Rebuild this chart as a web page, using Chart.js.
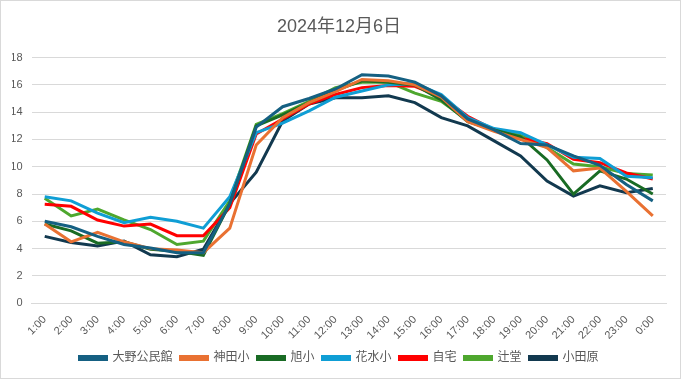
<!DOCTYPE html>
<html>
<head>
<meta charset="utf-8">
<script src="https://cdn.jsdelivr.net/npm/chart.js@4/dist/chart.umd.min.js"></script>
<style>
  html, body { margin: 0; padding: 0; background: #fff; }
  #wrap { width: 681px; height: 379px; box-sizing: border-box; border: 1px solid #d9d9d9; position: relative; }
  canvas { display: block; }
</style>
</head>
<body>
<div id="wrap"><canvas id="c"></canvas></div>
<script>
const categories = ["1:00","2:00","3:00","4:00","5:00","6:00","7:00","8:00","9:00","10:00","11:00","12:00","13:00","14:00","15:00","16:00","17:00","18:00","19:00","20:00","21:00","22:00","23:00","0:00"];

const ohnoKominkan = [6.0, 5.6, 4.9, 4.3, 4.05, 3.7, 3.7, 7.3, 12.9, 14.4, 15.0, 15.7, 16.75, 16.65, 16.2, 15.2, 13.5, 12.7, 11.7, 11.6, 10.8, 10.1, 8.7, 7.5];
const kandaSho     = [5.8, 4.5, 5.2, 4.5, 4.0, 3.9, 3.7, 5.5, 11.6, 13.6, 14.7, 15.5, 16.4, 16.3, 16.0, 15.1, 13.3, 12.6, 12.0, 11.4, 9.7, 9.9, 8.2, 6.4];
const asahiSho     = [5.8, 5.3, 4.4, 4.5, 3.95, 3.8, 3.5, 7.3, 13.0, 13.8, 14.7, 15.6, 16.3, 16.2, 16.0, 14.9, 13.3, 12.7, 12.2, 10.5, 8.0, 9.7, 9.1, 8.0];
const hanamizuSho  = [7.8, 7.5, 6.6, 5.9, 6.3, 6.0, 5.5, 7.8, 12.5, 13.2, 14.1, 15.1, 15.55, 16.0, 16.1, 15.3, 13.6, 12.8, 12.5, 11.6, 10.7, 10.6, 9.3, 9.2];
const jitaku       = [7.25, 7.1, 6.1, 5.65, 5.8, 4.95, 4.95, 7.0, 12.4, 13.5, 14.6, 15.3, 15.8, 15.95, 15.9, 15.1, 13.7, 12.7, 12.1, 11.7, 10.55, 10.3, 9.55, 9.1];
const tsujido      = [7.7, 6.4, 6.9, 6.1, 5.4, 4.3, 4.55, 7.5, 13.1, 13.9, 14.8, 15.8, 16.2, 16.2, 15.4, 14.8, 13.4, 12.7, 12.3, 11.4, 10.2, 10.0, 9.5, 9.4];
const odawara      = [4.9, 4.45, 4.2, 4.55, 3.55, 3.4, 3.95, 7.3, 9.6, 13.35, 14.6, 15.06, 15.06, 15.2, 14.7, 13.6, 13.0, 11.9, 10.8, 8.95, 7.85, 8.6, 8.1, 8.4];

const seriesNames = ["大野公民館","神田小","旭小","花水小","自宅","辻堂","小田原"];
const seriesColors = ["#156082","#E97132","#196B24","#0F9ED5","#FF0000","#4EA72E","#12394F"];
const seriesData = [ohnoKominkan, kandaSho, asahiSho, hanamizuSho, jitaku, tsujido, odawara];

const yTicks = { min: 0, max: 18, step: 2 };
const titleText = "2024年12月6日";

const FONT = "'Liberation Sans', 'Noto Sans CJK JP', sans-serif";
const TXT = "#595959";

const datasets = seriesNames.map((n, i) => ({
  label: n,
  data: seriesData[i],
  borderColor: seriesColors[i],
  backgroundColor: seriesColors[i],
  borderWidth: 3,
  pointRadius: 0,
  pointHoverRadius: 0,
  tension: 0,
  fill: false
}));

new Chart(document.getElementById('c'), {
  type: 'line',
  data: { labels: categories, datasets },
  options: {
    responsive: true,
    maintainAspectRatio: false,
    animation: false,
    layout: { padding: { left: 11, right: 14, top: 0, bottom: 4 } },
    plugins: {
      title: {
        display: true,
        text: titleText,
        color: TXT,
        font: { family: FONT, size: 18, weight: 'normal' },
        padding: { top: 15, bottom: 20 }
      },
      legend: {
        position: 'bottom',
        labels: {
          color: TXT,
          font: { family: FONT, size: 12 },
          boxWidth: 27,
          boxHeight: 3,
          padding: 8
        }
      },
      tooltip: { enabled: false }
    },
    scales: {
      x: {
        offset: true,
        grid: { display: false },
        border: { display: true, color: '#d9d9d9' },
        ticks: {
          color: TXT,
          font: { family: FONT, size: 11 },
          minRotation: 45,
          maxRotation: 45,
          autoSkip: false,
          padding: 2
        }
      },
      y: {
        min: yTicks.min,
        max: yTicks.max,
        afterFit: (s) => { s.width = 19.5; },
        grid: { color: '#d9d9d9', drawTicks: false },
        border: { display: false },
        ticks: {
          stepSize: yTicks.step,
          color: TXT,
          font: { family: FONT, size: 11 },
          padding: 9
        }
      }
    }
  }
});
</script>
</body>
</html>
